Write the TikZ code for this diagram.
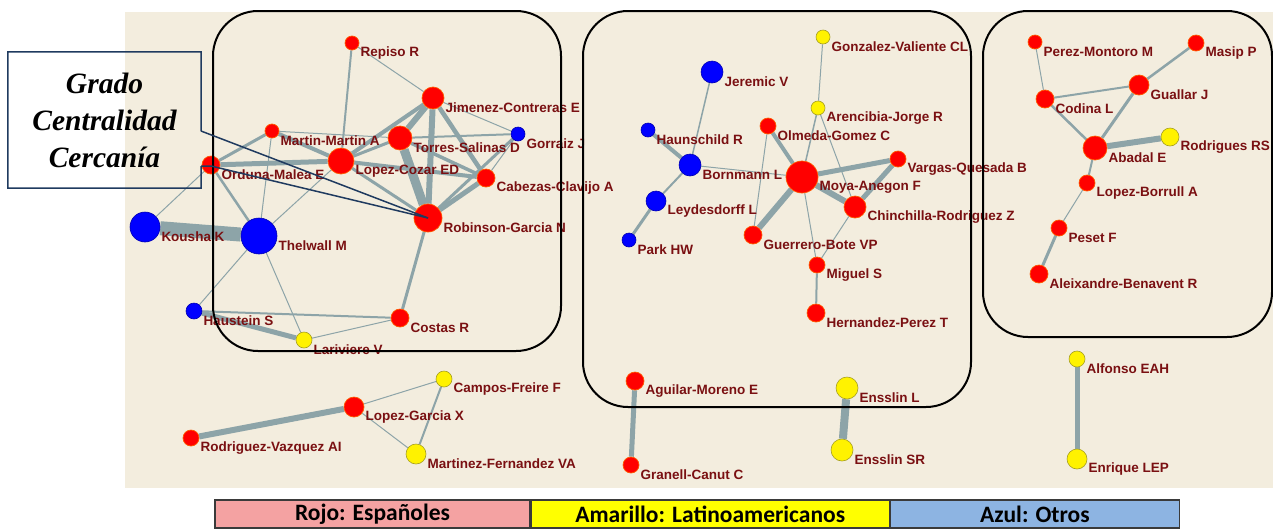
\documentclass[tikz,border=0pt]{standalone}
\usepackage{fontspec}
\newfontfamily\etiq{Liberation Sans}
\newfontfamily\leyfont{Carlito}
\newfontfamily\cajafont{Liberation Serif}
\usepackage{tikz}
\usetikzlibrary{positioning}
\usepackage{xcolor}
\definecolor{fondo}{HTML}{F3EDDE}
\definecolor{enlace}{HTML}{8DA4A8}
\definecolor{etiqueta}{HTML}{7A1012}
\definecolor{marino}{HTML}{1F3A5F}
\definecolor{rojoley}{HTML}{F4A2A2}
\definecolor{amarley}{HTML}{FFFF00}
\definecolor{azulley}{HTML}{8DB4E2}
\definecolor{bordeley}{HTML}{3A3A3A}
\pgfdeclarelayer{back}
\pgfdeclarelayer{links}
\pgfsetlayers{back,links,main}

\begin{document}
\begin{tikzpicture}[
    x=1pt, y=-1pt,
    rojo/.style={circle, fill=red, draw=orange!70!red, line width=0.7pt, minimum size=2*#1, inner sep=0pt},
    amar/.style={circle, fill=yellow, draw=olive!80, line width=0.6pt, minimum size=2*#1, inner sep=0pt},
    azul/.style={circle, fill=blue, draw=blue!70!black, line width=0.6pt, minimum size=2*#1, inner sep=0pt},
    lab/.style={font=\etiq\bfseries\fontsize{13.5}{14}\selectfont, text=etiqueta, inner sep=1pt, yshift=-10pt},
    link/.style={enlace, line width=#1},
    link/.default=1,
    caja/.style={draw=black, line width=2pt, rounded corners=45pt},
    leyenda/.style={draw=bordeley, line width=1.2pt, minimum height=28, inner sep=0pt,
      font=\leyfont\bfseries\fontsize{23.5}{23.5}\selectfont},
  ]
  \useasboundingbox (0,0) rectangle (1273,528);

  \begin{pgfonlayer}{back}
    \fill[fondo] (125,12) rectangle (1273,488);
  \end{pgfonlayer}

  % =================== Grupo 1 ===================
  \node[rojo=7, label={[lab]0:Repiso R}] (repiso) at (352,43) {};
  \node[rojo=11, label={[lab]0:Jimenez-Contreras E}] (jimenez) at (433,98) {};
  \node[rojo=7, label={[lab]0:Martin-Martin A}] (martin) at (272,131) {};
  \node[rojo=12, label={[lab]0:Torres-Salinas D}] (torres) at (400,138) {};
  \node[azul=7, label={[lab]0:Gorraiz J}] (gorraiz) at (518,134) {};
  \node[rojo=9, label={[lab]0:Orduna-Malea E}] (orduna) at (211,165) {};
  \node[rojo=13, label={[lab]0:Lopez-Cozar ED}] (lopezcozar) at (341,161) {};
  \node[rojo=9, label={[lab]0:Cabezas-Clavijo A}] (cabezas) at (486,178) {};
  \node[rojo=14, label={[lab]0:Robinson-Garcia N}] (robinson) at (428,218) {};
  \node[azul=15, label={[lab]0:Kousha K}] (kousha) at (145,227) {};
  \node[azul=18, label={[lab]0:Thelwall M}] (thelwall) at (259,236) {};
  \node[azul=8, label={[lab]0:Haustein S}] (haustein) at (194,311) {};
  \node[rojo=9, label={[lab]0:Costas R}] (costas) at (400,318) {};
  \node[amar=8, label={[lab]0:Lariviere V}] (lariviere) at (304,340) {};

  \begin{pgfonlayer}{links}
    \draw[link] (repiso) -- (jimenez);
    \draw[link=2] (repiso) -- (lopezcozar);
    \draw[link] (jimenez) -- (gorraiz);
    \draw[link=6] (jimenez) -- (torres);
    \draw[link=6] (jimenez) -- (robinson);
    \draw[link=4] (jimenez) -- (lopezcozar);
    \draw[link=4.5] (jimenez) -- (cabezas);
    \draw[link] (martin) -- (torres);
    \draw[link=4] (martin) -- (lopezcozar);
    \draw[link=3] (martin) -- (orduna);
    \draw[link] (martin) -- (thelwall);
    \draw[link=3] (torres) -- (lopezcozar);
    \draw[link=2] (torres) -- (gorraiz);
    \draw[link=9] (torres) -- (robinson);
    \draw[link=3.5] (torres) -- (cabezas);
    \draw[link=5] (orduna) -- (lopezcozar);
    \draw[link] (orduna) -- (kousha);
    \draw[link=2.5] (orduna) -- (thelwall);
    \draw[link=4] (lopezcozar) -- (cabezas);
    \draw[link=3] (lopezcozar) -- (robinson);
    \draw[link] (lopezcozar) -- (thelwall);
    \draw[link] (gorraiz) -- (cabezas);
    \draw[link=3] (gorraiz) -- (robinson);
    \draw[link=5] (cabezas) -- (robinson);
    \draw[link=3] (robinson) -- (costas);
    \draw[link=14] (kousha) -- (thelwall);
    \draw[link] (thelwall) -- (haustein);
    \draw[link] (thelwall) -- (lariviere);
    \draw[link=2] (haustein) -- (costas);
    \draw[link=5] (haustein) -- (lariviere);
    \draw[link] (lariviere) -- (costas);
  \end{pgfonlayer}

  % =================== Grupo 2 ===================
  \node[amar=7, label={[lab]0:Gonzalez-Valiente CL}] (gonzalez) at (823,37) {};
  \node[azul=11, label={[lab]0:Jeremic V}] (jeremic) at (712,72) {};
  \node[amar=7, label={[lab]0:Arencibia-Jorge R}] (arencibia) at (818,108) {};
  \node[rojo=8, label={[lab]0:Olmeda-Gomez C}] (olmeda) at (768,126) {};
  \node[azul=7, label={[lab]0:Haunschild R}] (haunschild) at (648,130) {};
  \node[azul=11, label={[lab]0:Bornmann L}] (bornmann) at (690,165) {};
  \node[rojo=16, label={[lab]0:Moya-Anegon F}] (moya) at (802,177) {};
  \node[rojo=8, label={[lab]0:Vargas-Quesada B}] (vargas) at (898,159) {};
  \node[azul=10, label={[lab]0:Leydesdorff L}] (leydesdorff) at (656,201) {};
  \node[rojo=11, label={[lab]0:Chinchilla-Rodriguez Z}] (chinchilla) at (855,207) {};
  \node[azul=7, label={[lab]0:Park HW}] (park) at (629,240) {};
  \node[rojo=9, label={[lab]0:Guerrero-Bote VP}] (guerrero) at (753,235) {};
  \node[rojo=8, label={[lab]0:Miguel S}] (miguel) at (817,265) {};
  \node[rojo=9, label={[lab]0:Hernandez-Perez T}] (hernandez) at (816,313) {};
  \node[rojo=9, label={[lab]0:Aguilar-Moreno E}] (aguilar) at (635,381) {};
  \node[rojo=8, label={[lab]0:Granell-Canut C}] (granell) at (631,465) {};
  \node[amar=11, label={[lab]0:Ensslin L}] (ensslinl) at (847,388) {};
  \node[amar=11, label={[lab]0:Ensslin SR}] (ensslinsr) at (842,450) {};

  \begin{pgfonlayer}{links}
    \draw[link] (gonzalez) -- (arencibia);
    \draw[link=1.5] (jeremic) -- (bornmann);
    \draw[link=4] (haunschild) -- (bornmann);
    \draw[link=2] (bornmann) -- (leydesdorff);
    \draw[link=3] (leydesdorff) -- (park);
    \draw[link] (bornmann) -- (moya);
    \draw[link=1.5] (arencibia) -- (moya);
    \draw[link] (arencibia) -- (chinchilla);
    \draw[link=4] (olmeda) -- (moya);
    \draw[link] (olmeda) -- (guerrero);
    \draw[link=5] (moya) -- (vargas);
    \draw[link=6] (moya) -- (chinchilla);
    \draw[link=5] (vargas) -- (chinchilla);
    \draw[link=6] (moya) -- (guerrero);
    \draw[link] (moya) -- (miguel);
    \draw[link] (chinchilla) -- (miguel);
    \draw[link=2] (miguel) -- (hernandez);
    \draw[link=5] (aguilar) -- (granell);
    \draw[link=8] (ensslinl) -- (ensslinsr);
  \end{pgfonlayer}

  % =================== Grupo 3 ===================
  \node[rojo=7, label={[lab]0:Perez-Montoro M}] (perez) at (1035,42) {};
  \node[rojo=8, label={[lab]0:Masip P}] (masip) at (1196,43) {};
  \node[rojo=10, label={[lab]0:Guallar J}] (guallar) at (1139,85) {};
  \node[rojo=9, label={[lab]0:Codina L}] (codina) at (1045,99) {};
  \node[rojo=12, label={[lab]0:Abadal E}] (abadal) at (1095,148) {};
  \node[amar=9, label={[lab]0:Rodrigues RS}] (rodrigues) at (1170,137) {};
  \node[rojo=8, label={[lab]0:Lopez-Borrull A}] (borrull) at (1087,183) {};
  \node[rojo=8, label={[lab]0:Peset F}] (peset) at (1059,228) {};
  \node[rojo=9, label={[lab]0:Aleixandre-Benavent R}] (aleixandre) at (1039,274) {};

  \begin{pgfonlayer}{links}
    \draw[link] (perez) -- (codina);
    \draw[link=2] (codina) -- (guallar);
    \draw[link=2.5] (masip) -- (guallar);
    \draw[link=2.5] (codina) -- (abadal);
    \draw[link=3] (guallar) -- (abadal);
    \draw[link=6] (abadal) -- (rodrigues);
    \draw[link=2] (abadal) -- (borrull);
    \draw[link] (borrull) -- (peset);
    \draw[link=3] (peset) -- (aleixandre);
  \end{pgfonlayer}

  % =================== Sueltos ===================
  \node[amar=8, label={[lab]0:Campos-Freire F}] (campos) at (444,379) {};
  \node[rojo=10, label={[lab]0:Lopez-Garcia X}] (lopezgarcia) at (354,407) {};
  \node[rojo=8, label={[lab]0:Rodriguez-Vazquez AI}] (rodriguez) at (191,438) {};
  \node[amar=10, label={[lab]0:Martinez-Fernandez VA}] (martinez) at (416,454) {};
  \node[amar=8, label={[lab]0:Alfonso EAH}] (alfonso) at (1077,359) {};
  \node[amar=10, label={[lab]0:Enrique LEP}] (enrique) at (1077,459) {};

  \begin{pgfonlayer}{links}
    \draw[link=6] (lopezgarcia) -- (rodriguez);
    \draw[link] (lopezgarcia) -- (campos);
    \draw[link] (lopezgarcia) -- (martinez);
    \draw[link=2] (campos) -- (martinez);
    \draw[link=5] (alfonso) -- (enrique);
  \end{pgfonlayer}

  % =================== Recuadros ===================
  \draw[caja] (213,11) rectangle (561,351);
  \draw[caja] (583,11) rectangle (971,407);
  \draw[caja] (983,11) rectangle (1272,337);

  % =================== Llamada ===================
  \node[minimum width=193, minimum height=136, align=center,
    font=\cajafont\bfseries\itshape\fontsize{29.5}{37}\selectfont] (llamada) at (104.5,120)
    {Grado\\Centralidad\\Cercan\'{\i}a};
  \coordinate (pico1) at (201,131);
  \coordinate (pico2) at (201,166);
  \draw[marino, line width=1.5pt] (pico1) -- (llamada.north east) -- (llamada.north west)
    -- (llamada.south west) -- (llamada.south east) -- (pico2);
  \draw[marino, line width=1.5pt] (pico1) -- (robinson.center);
  \draw[marino, line width=1.5pt] (pico2) -- ++(10,0) -- (robinson.center);

  % =================== Leyenda ===================
  \node[leyenda, fill=rojoley, minimum width=315] (leyrojo) at (372.5,514) {Rojo: Españoles};
  \node[leyenda, fill=amarley, minimum width=358, right=0pt of leyrojo] (leyamar) {Amarillo: Latinoamericanos};
  \node[leyenda, fill=azulley, minimum width=289, right=0pt of leyamar] (leyazul) {Azul: Otros};

\end{tikzpicture}
\end{document}
